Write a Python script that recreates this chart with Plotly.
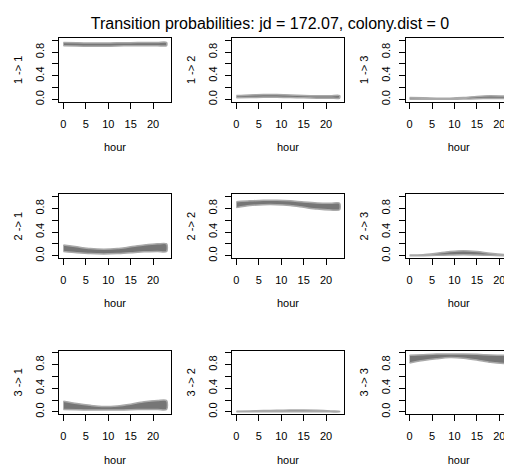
import plotly.graph_objects as go

# The page body has an 8px margin, so the figure is drawn 8px in from the corner.
OFF = 8
W, H = 512 - OFF, 470 - OFF

hours = [0, 3, 6, 9, 12, 15, 18, 21, 23]

panel_labels = ["1 -> 1", "1 -> 2", "1 -> 3",
                "2 -> 1", "2 -> 2", "2 -> 3",
                "3 -> 1", "3 -> 2", "3 -> 3"]

lower_11 = [0.91, 0.905, 0.90, 0.90, 0.905, 0.91, 0.91, 0.91, 0.91]
upper_11 = [0.965, 0.96, 0.955, 0.955, 0.96, 0.96, 0.965, 0.965, 0.965]
lower_12 = [0.025, 0.03, 0.035, 0.035, 0.03, 0.025, 0.02, 0.02, 0.02]
upper_12 = [0.065, 0.075, 0.08, 0.08, 0.075, 0.065, 0.06, 0.06, 0.065]
lower_13 = [0.0, 0.0, 0.0, 0.0, 0.005, 0.01, 0.015, 0.015, 0.01]
upper_13 = [0.03, 0.025, 0.02, 0.02, 0.03, 0.05, 0.06, 0.055, 0.05]
lower_21 = [0.07, 0.05, 0.035, 0.03, 0.035, 0.05, 0.065, 0.07, 0.07]
upper_21 = [0.18, 0.15, 0.12, 0.11, 0.12, 0.15, 0.18, 0.2, 0.2]
lower_22 = [0.815, 0.85, 0.865, 0.865, 0.85, 0.82, 0.79, 0.775, 0.78]
upper_22 = [0.915, 0.93, 0.94, 0.94, 0.93, 0.91, 0.895, 0.89, 0.89]
lower_23 = [0.0, 0.0, 0.005, 0.01, 0.015, 0.01, 0.005, 0.0, 0.0]
upper_23 = [0.01, 0.015, 0.04, 0.07, 0.085, 0.07, 0.04, 0.02, 0.015]
lower_31 = [0.04, 0.035, 0.03, 0.03, 0.03, 0.035, 0.04, 0.04, 0.04]
upper_31 = [0.18, 0.14, 0.11, 0.09, 0.10, 0.13, 0.17, 0.19, 0.19]
lower_32 = [0.0, 0.0, 0.0, 0.0, 0.0, 0.0, 0.0, 0.0, 0.0]
upper_32 = [0.01, 0.015, 0.02, 0.025, 0.03, 0.03, 0.025, 0.015, 0.01]
lower_33 = [0.83, 0.87, 0.90, 0.92, 0.91, 0.88, 0.84, 0.82, 0.82]
upper_33 = [0.96, 0.97, 0.98, 0.98, 0.98, 0.975, 0.965, 0.96, 0.96]

lowers = [lower_11, lower_12, lower_13, lower_21, lower_22, lower_23, lower_31, lower_32, lower_33]
uppers = [upper_11, upper_12, upper_13, upper_21, upper_22, upper_23, upper_31, upper_32, upper_33]

x_ticks = [0, 5, 10, 15, 20]
y_ticks = [0.0, 0.2, 0.4, 0.6, 0.8, 1.0]
y_ticktext = ["0.0", "", "0.4", "", "0.8", ""]

title_text = "Transition probabilities: jd = 172.07, colony.dist = 0"

# layout geometry (pixels in the 512x470 window)
col_left = [59.3, 232.3, 405.5]
box_w = 111.4
row_top = [38.3, 196.0, 353.5]
box_h = 64.2
xr = [-0.92, 23.92]
yr = [-0.04, 1.04]


def px(x):
    return (x - OFF) / W


def py(y):
    return 1 - (y - OFF) / H


FONT = "Liberation Sans, Arial, Helvetica, sans-serif"
fig = go.Figure()
layout = dict(width=W, height=H, margin=dict(l=0, r=0, t=0, b=0),
              paper_bgcolor="white", plot_bgcolor="white", showlegend=False,
              font=dict(family=FONT, size=11, color="black"),
              title=dict(text=title_text, x=px(270), y=py(23), xanchor="center",
                         yanchor="middle", font=dict(size=16, family=FONT, color="black")))

for i in range(9):
    r, c = divmod(i, 3)
    n = i + 1
    xa = "x" if n == 1 else f"x{n}"
    ya = "y" if n == 1 else f"y{n}"
    left = col_left[c]
    right = left + box_w
    x_range = list(xr)
    clipped = False
    if right > 512:
        x_range[1] = xr[0] + (512 - left) / box_w * (xr[1] - xr[0])
        right = 512
        clipped = True
    top = row_top[r]
    bot = top + box_h
    xs = hours + hours[::-1]
    ys = uppers[i] + lowers[i][::-1]
    fig.add_trace(go.Scatter(x=xs, y=ys, fill="toself", mode="lines",
                             fillcolor="#767676",
                             line=dict(color="#a9a9a9", width=1.5, shape="spline", smoothing=0.8),
                             hoverinfo="skip", xaxis=xa, yaxis=ya))
    layout["xaxis" if n == 1 else f"xaxis{n}"] = dict(
        domain=[px(left), px(right)], range=x_range, anchor=ya,
        showline=True, mirror=True, linecolor="black", linewidth=1,
        ticks="outside", ticklen=6, tickwidth=1, tickcolor="black",
        tickvals=x_ticks, ticktext=[str(v) for v in x_ticks],
        showgrid=False, zeroline=False, ticklabelstandoff=6,
        tickfont=dict(size=11, family=FONT),
        title=dict(text="hour", standoff=14, font=dict(size=11, family=FONT)))
    layout["yaxis" if n == 1 else f"yaxis{n}"] = dict(
        domain=[py(bot), py(top)], range=yr, anchor=xa,
        showline=True, mirror=(not clipped), linecolor="black", linewidth=1,
        ticks="outside", ticklen=6, tickwidth=1, tickcolor="black",
        tickvals=y_ticks, ticktext=y_ticktext, tickangle=-90,
        showgrid=False, zeroline=False, ticklabelstandoff=4,
        tickfont=dict(size=11, family=FONT),
        title=dict(text=panel_labels[i], standoff=9, font=dict(size=11, family=FONT)))

fig.update_layout(**layout)
fig.write_html("out.html")
